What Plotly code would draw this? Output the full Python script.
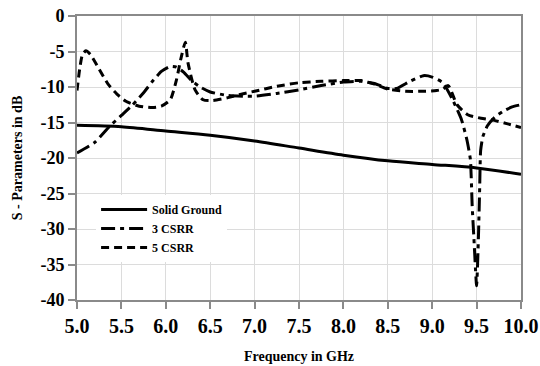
import plotly.graph_objects as go

# Solid ground reference
f_solid = [5.0, 5.5, 6.0, 6.5, 7.0, 7.5, 8.0, 8.5, 9.0, 9.5, 10.0]
s_solid = [-15.4, -15.6, -16.2, -16.8, -17.6, -18.6, -19.6, -20.4, -20.9, -21.4, -22.3]

# Ground plane with 3 CSRR
f_3csrr = [5.0, 5.2, 5.37, 5.5, 5.62, 5.75, 5.85, 5.95, 6.05, 6.12, 6.2, 6.3, 6.4, 6.5,
           6.7, 6.9, 7.0, 7.25, 7.5, 7.75, 8.0, 8.2, 8.35, 8.5, 8.6, 8.75, 8.9, 9.0,
           9.12, 9.23, 9.33, 9.39, 9.43, 9.45, 9.47, 9.5, 9.52, 9.535, 9.545, 9.57,
           9.62, 9.7, 9.8, 9.9, 10.0]
s_3csrr = [-19.3, -17.8, -15.5, -14.0, -12.6, -10.8, -9.2, -7.8, -7.1, -7.2, -7.9, -9.2, -10.1, -10.7,
           -11.2, -11.3, -11.3, -10.9, -10.4, -9.8, -9.3, -9.2, -9.5, -10.2, -10.2, -9.2, -8.4, -8.6,
           -9.4, -11.8, -14.6, -17.4, -20.2, -26.7, -31.4, -38.0, -31.4, -24.0, -19.0, -17.0,
           -15.5, -14.3, -13.4, -12.8, -12.5]

# Ground plane with 5 CSRR
f_5csrr = [5.0, 5.03, 5.06, 5.1, 5.15, 5.25, 5.35, 5.45, 5.55, 5.7, 5.85, 5.95, 6.05, 6.12,
           6.17, 6.22, 6.25, 6.33, 6.42, 6.53, 6.7, 6.85, 7.0, 7.25, 7.5, 7.75, 8.0, 8.2,
           8.35, 8.5, 8.7, 8.9, 9.05, 9.12, 9.18, 9.28, 9.4, 9.55, 9.7, 9.85, 10.0]
s_5csrr = [-10.5, -7.5, -5.5, -4.9, -5.4, -7.5, -9.6, -11.0, -12.0, -12.7, -12.9, -12.7, -11.8, -9.0,
           -6.0, -3.7, -6.6, -10.4, -11.8, -11.9, -11.5, -11.0, -10.6, -9.9, -9.4, -9.2, -9.1, -9.1,
           -9.6, -10.3, -10.6, -10.6, -10.5, -10.3, -9.8, -12.5, -13.9, -14.4, -14.7, -15.2, -15.7]

x_ticks = [5.0, 5.5, 6.0, 6.5, 7.0, 7.5, 8.0, 8.5, 9.0, 9.5, 10.0]
y_ticks = [0, -5, -10, -15, -20, -25, -30, -35, -40]

serif = "Liberation Serif, Times New Roman, serif"

fig = go.Figure()
fig.add_trace(go.Scatter(x=f_solid, y=s_solid, name="Solid Ground", mode="lines",
                         line=dict(color="black", width=3, shape="spline", smoothing=0.8)))
fig.add_trace(go.Scatter(x=f_3csrr, y=s_3csrr, name="3 CSRR", mode="lines",
                         line=dict(color="black", width=3, dash="14px,5px,4px,5px",
                                   shape="spline", smoothing=0.5)))
fig.add_trace(go.Scatter(x=f_5csrr, y=s_5csrr, name="5 CSRR", mode="lines",
                         line=dict(color="black", width=3, dash="8px,5px",
                                   shape="spline", smoothing=0.6)))

fig.update_layout(
    width=540, height=366,
    margin=dict(l=77, r=19, t=16, b=66),
    paper_bgcolor="white", plot_bgcolor="white",
    font=dict(family=serif, color="black"),
    showlegend=True,
    legend=dict(x=0.043, y=0.37, xanchor="left", yanchor="top",
                bgcolor="white", borderwidth=0,
                font=dict(family=serif, size=12, weight="bold", color="black"),
                tracegroupgap=0, itemwidth=46),
)
fig.update_xaxes(
    range=[5.0, 10.0], tickvals=x_ticks, ticktext=[f"{v:.1f}" for v in x_ticks],
    automargin=False,
    showgrid=True, gridcolor="#dcdcdc", gridwidth=1,
    showline=True, linecolor="#8a8a8a", linewidth=2, mirror=True,
    ticks="outside", ticklen=7, tickwidth=2, tickcolor="#8a8a8a",
    tickfont=dict(family=serif, size=20, weight="bold", color="black"),
    title=dict(text="Frequency in GHz",
               font=dict(family=serif, size=14, weight="bold", color="black")),
    zeroline=False,
)
fig.update_yaxes(
    range=[-40, 0], tickvals=y_ticks, ticktext=[str(v) for v in y_ticks],
    automargin=False,
    showgrid=True, gridcolor="#dcdcdc", gridwidth=1,
    showline=True, linecolor="#8a8a8a", linewidth=2, mirror=True,
    ticks="outside", ticklen=7, tickwidth=2, tickcolor="#8a8a8a",
    tickfont=dict(family=serif, size=18, weight="bold", color="black"),
    title=dict(text="S - Parameters in dB",
               font=dict(family=serif, size=14, weight="bold", color="black")),
    zeroline=False,
)

fig.write_html("out.html")
